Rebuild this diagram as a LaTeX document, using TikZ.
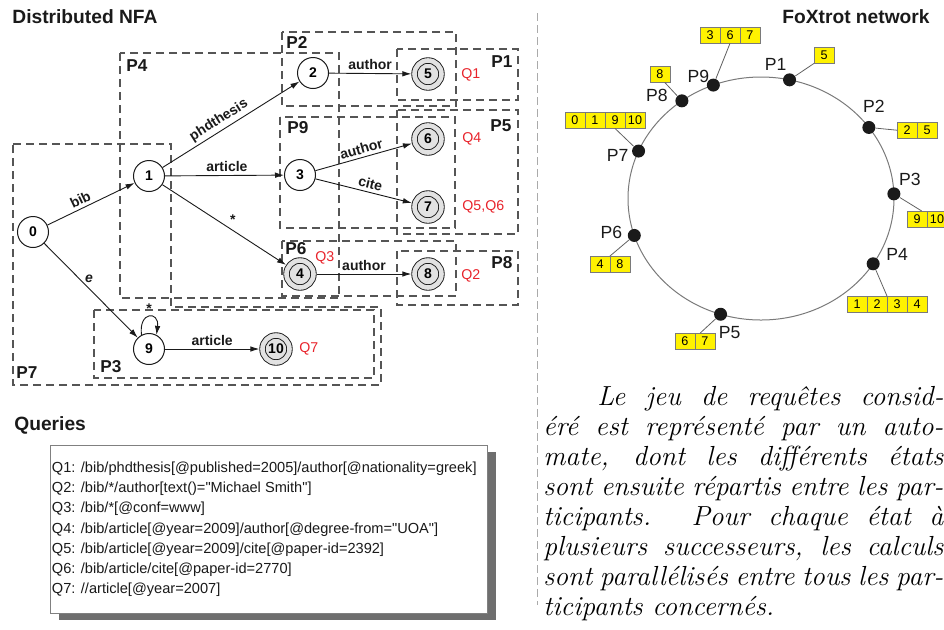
\documentclass[tikz,border=0pt]{standalone}
\usepackage{fontspec}
\usepackage{tikz}
\usetikzlibrary{arrows.meta,positioning,calc,shadows}
\newfontfamily\figsans{Liberation Sans}
\definecolor{ink}       {HTML}{1A1A1A}
\definecolor{boxgray}   {HTML}{555555}
\definecolor{sepgray}   {HTML}{AAAAAA}
\definecolor{ringgray}  {HTML}{7A7A7A}
\definecolor{qred}      {HTML}{E8232B}
\definecolor{acceptfill}{HTML}{E2E2E2}
\definecolor{cellyellow}{HTML}{FFF200}
\definecolor{shadowgray}{HTML}{6E6E6E}
\tikzset{
  statenode/.style ={circle, draw=ink, fill=white, line width=0.5pt,
                     minimum size=15.5pt, inner sep=0pt,
                     font=\figsans\bfseries\fontsize{7}{8}\selectfont},
  acceptnode/.style={circle, draw=ink, line width=0.45pt, fill=acceptfill,
                     double=acceptfill, double distance=2.3pt,
                     minimum size=13.5pt, inner sep=0pt, outer sep=1.6pt,
                     font=\figsans\bfseries\fontsize{7}{8}\selectfont},
  edgearr/.style   ={-{Latex[length=4.5pt,width=2.8pt]}, line width=0.45pt, draw=ink},
  edgelbl/.style   ={font=\figsans\bfseries\fontsize{7}{8}\selectfont, inner sep=1.5pt, text=ink},
  partbox/.style   ={draw=boxgray, line width=0.6pt, dash pattern=on 4pt off 2.5pt},
  partlbl/.style   ={font=\figsans\bfseries\fontsize{8.6}{9}\selectfont, text=ink},
  qlbl/.style      ={font=\figsans\fontsize{7.1}{8}\selectfont, text=qred, inner sep=0pt},
  titlelbl/.style  ={font=\figsans\bfseries\fontsize{9.6}{11}\selectfont, text=ink, inner sep=0pt},
  peerdot/.style   ={circle, fill=ink, minimum size=6.5pt, inner sep=0pt},
  peerlbl/.style   ={font=\figsans\fontsize{8.8}{10}\selectfont, text=ink},
  cellbox/.style   ={draw=ringgray, fill=cellyellow, line width=0.4pt,
                     minimum width=10pt, minimum height=8.2pt, inner sep=0pt, outer sep=0pt,
                     font=\figsans\fontsize{6.3}{7}\selectfont},
  cellline/.style  ={draw=ringgray!80!black, line width=0.4pt},
  sepline/.style   ={draw=sepgray, line width=0.5pt, dash pattern=on 4pt off 2pt},
  querybox/.style  ={draw=gray, fill=white, line width=0.4pt,
                     minimum width=218.5pt, minimum height=84pt,
                     drop shadow={shadow xshift=4.5pt, shadow yshift=-3.5pt,
                                  fill=shadowgray, opacity=1}},
  querytext/.style ={font=\figsans\fontsize{7.3}{10.1}\selectfont, align=left,
                     inner sep=0pt, text=ink},
  frtext/.style    ={font=\itshape\fontsize{13.8}{15}\selectfont, text width=200pt,
                     align=justify, inner sep=0pt},
}
\begin{document}
\begin{tikzpicture}[x=0.5pt,y=0.5pt]
    \useasboundingbox (0,0) rectangle (944,-629);

    % ----- distributed NFA -----
    \node[titlelbl, anchor=base west] (nfatitle) at (12,-23) {Distributed NFA};

    \draw[partbox] (282,-32) rectangle (456,-106);
    \node[partlbl] (lP2) at (297,-42) {P2};
    \draw[partbox] (120,-53) rectangle (339,-298);
    \node[partlbl] (lP4) at (137,-66) {P4};
    \draw[partbox] (397,-49) rectangle (518,-100);
    \node[partlbl] (lP1) at (502,-62) {P1};
    \draw[partbox] (397,-110) rectangle (518,-234);
    \node[partlbl] (lP5) at (501,-126) {P5};
    \draw[partbox] (280,-117) rectangle (455,-228);
    \node[partlbl] (lP9) at (298,-128) {P9};
    \draw[partbox] (282,-241) rectangle (456,-296);
    \node[partlbl] (lP6) at (296,-249) {P6};
    \draw[partbox] (397,-251) rectangle (518,-305);
    \node[partlbl] (lP8) at (502,-263) {P8};
    \draw[partbox] (94,-310) rectangle (374,-378);
    \node[partlbl] (lP3) at (111,-367) {P3};
    \draw[partbox] (13,-144) -- (171,-144) -- (171,-307) -- (381,-307)
                   -- (381,-385) -- (13,-385) -- cycle;
    \node[partlbl] (lP7) at (27,-373) {P7};

    \node[statenode]  (s0)  at (33,-232)  {0};
    \node[statenode]  (s1)  at (149,-176) {1};
    \node[statenode]  (s2)  at (313,-73)  {2};
    \node[statenode]  (s3)  at (300,-175) {3};
    \node[acceptnode] (s4)  at (300,-274) {4};
    \node[acceptnode] (s5)  at (428,-74)  {5};
    \node[acceptnode] (s6)  at (428,-139) {6};
    \node[acceptnode] (s7)  at (428,-207) {7};
    \node[acceptnode] (s8)  at (428,-274) {8};
    \node[statenode]  (s9)  at (149,-349) {9};
    \node[acceptnode] (s10) at (276,-349) {10};

    \draw[edgearr] (s0) -- node[edgelbl, sloped, above, pos=0.42] {bib} (s1);
    \draw[edgearr] (s0) -- node[edgelbl, right=1pt, pos=0.38] {\itshape e} (s9);
    \draw[edgearr] (s1) -- node[edgelbl, sloped, above, pos=0.45] {phdthesis} (s2);
    \draw[edgearr] (s1) -- node[edgelbl, above, pos=0.52] {article} (s3);
    \draw[edgearr] (s1) -- node[edgelbl, above=1pt, pos=0.57] {*} (s4);
    \draw[edgearr] (s2) -- node[edgelbl, above] {author} (s5);
    \draw[edgearr] (s3) -- node[edgelbl, sloped, above, pos=0.5] {author} (s6);
    \draw[edgearr] (s3) -- node[edgelbl, sloped, above, pos=0.55] {cite} (s7);
    \draw[edgearr] (s4) -- node[edgelbl, above] {author} (s8);
    \draw[edgearr] (s9) -- node[edgelbl, above] {article} (s10);
    \draw[edgearr] (s9.118) .. controls +(-3,24) and +(3,24) ..
      node[edgelbl, above=0pt] {*} (s9.62);

    \node[qlbl, anchor=west] (q1)  at (461,-75)  {Q1};
    \node[qlbl, anchor=west] (q4)  at (462,-139) {Q4};
    \node[qlbl, anchor=west] (q56) at (462,-207) {Q5,Q6};
    \node[qlbl, anchor=west] (q2)  at (461,-276) {Q2};
    \node[qlbl, anchor=west] (q3)  at (315,-258) {Q3};
    \node[qlbl, anchor=west] (q7)  at (299,-349) {Q7};

    % ----- queries -----
    \node[titlelbl, anchor=base west] (qtitle) at (14,-430) {Queries};
    \node[querybox] (qbox) at (268.5,-529) {};
    \node[querytext, anchor=north west] (qlist) at ($(qbox.north west)+(2,-17)$)
      {Q1: /bib/phdthesis[@published=2005]/author[@nationality=greek]\\
       Q2: /bib/*/author[text()="Michael Smith"]\\
       Q3: /bib/*[@conf=www]\\
       Q4: /bib/article[@year=2009]/author[@degree-from="UOA"]\\
       Q5: /bib/article[@year=2009]/cite[@paper-id=2392]\\
       Q6: /bib/article/cite[@paper-id=2770]\\
       Q7: //article[@year=2007]};

    % ----- separator -----
    \coordinate (septop) at (537,-13);
    \coordinate (sepbot) at (537,-605);
    \draw[sepline] (septop) -- (sepbot);

    % ----- FoXtrot ring -----
    \node[titlelbl, anchor=base east] (ringtitle) at (930,-23) {FoXtrot network};
    \coordinate (rc) at (761,-198.5);
    \draw[ringgray, line width=0.5pt] (rc) ellipse [x radius=66.5pt, y radius=60.75pt];

    \node[cellbox, anchor=north west] (c1a) at (814,-47) {5};

    \node[cellbox, anchor=north west] (c2a) at (897,-122) {2};
    \node[cellbox, right=0pt of c2a] (c2b) {5};

    \node[cellbox, anchor=north west] (c3a) at (907,-211) {9};
    \node[cellbox, right=0pt of c3a] (c3b) {10};

    \node[cellbox, anchor=north west] (c4a) at (847,-296) {1};
    \node[cellbox, right=0pt of c4a] (c4b) {2};
    \node[cellbox, right=0pt of c4b] (c4c) {3};
    \node[cellbox, right=0pt of c4c] (c4d) {4};

    \node[cellbox, anchor=north west] (c5a) at (675,-333) {6};
    \node[cellbox, right=0pt of c5a] (c5b) {7};

    \node[cellbox, anchor=north west] (c6a) at (590,-256) {4};
    \node[cellbox, right=0pt of c6a] (c6b) {8};

    \node[cellbox, anchor=north west] (c7a) at (565,-112) {0};
    \node[cellbox, right=0pt of c7a] (c7b) {1};
    \node[cellbox, right=0pt of c7b] (c7c) {9};
    \node[cellbox, right=0pt of c7c] (c7d) {10};

    \node[cellbox, anchor=north west] (c8a) at (650,-66) {8};

    \node[cellbox, anchor=north west] (c9a) at (700,-27) {3};
    \node[cellbox, right=0pt of c9a] (c9b) {6};
    \node[cellbox, right=0pt of c9b] (c9c) {7};

    \foreach \p/\ang in {1/77.6, 2/35.8, 3/2.2, 4/-32.5, 5/252.3,
                         6/197.7, 7/157, 8/126.5, 9/111}
      \node[peerdot] (d\p) at ($(rc)+(\ang:66.5pt and 60.75pt)$) {};

    \draw[cellline] (d1) -- (c1a.south west);
    \draw[cellline] (d2) -- (c2a.west);
    \draw[cellline] (d3) -- (c3a.60);
    \draw[cellline] (d4) -- (c4b.north east);
    \draw[cellline] (d5) -- (c5b.120);
    \draw[cellline] (d6) -- (c6a.north east);
    \draw[cellline] (d7) -- (c7c.south);
    \draw[cellline] (d8) -- (c8a.-60);
    \draw[cellline] (d9) -- (c9b.south);

    \foreach \p/\dx/\dy in {1/-14/15, 2/5/21, 3/16/14, 4/24/9, 5/9/-18,
                            6/-23/3, 7/-21/-4, 8/-25/5, 9/-15/9}
      \node[peerlbl] (lbl\p) at ($(d\p)+(\dx,\dy)$) {P\p};

    % ----- paragraph -----
    \node[frtext, anchor=north west] (para) at (543,-386)
      {\hspace*{27pt}Le jeu de requêtes consid-\linebreak
       éré est représenté par un auto-\linebreak
       mate, dont les différents états\linebreak
       sont ensuite répartis entre les par-\linebreak
       ticipants. Pour chaque état à\linebreak
       plusieurs successeurs, les calculs\linebreak
       sont parallélisés entre tous les par-\linebreak
       ticipants concernés.};
\end{tikzpicture}
\end{document}
